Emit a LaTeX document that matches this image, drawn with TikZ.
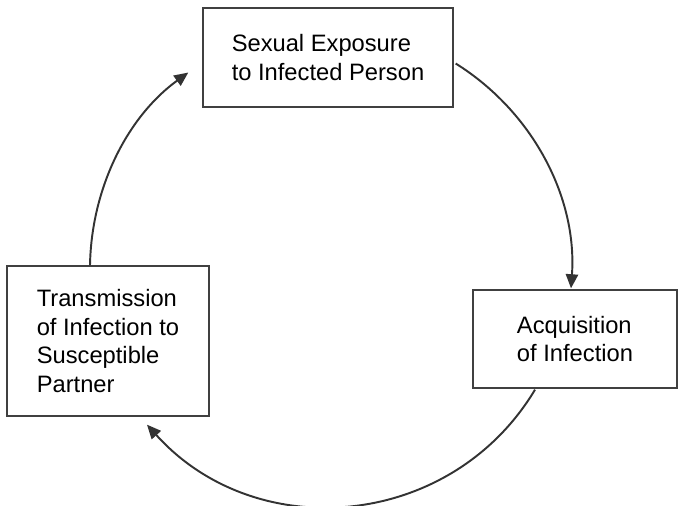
\documentclass[tikz,border=0pt]{standalone}
\usepackage{fontspec}
\setmainfont{Liberation Sans}
\usetikzlibrary{arrows.meta, positioning, calc}

\tikzset{
  stagebox/.style={draw=black!75, line width=0.8pt, align=left, inner sep=0pt,
    font=\fontsize{13.5}{16.4}\selectfont},
  cyclearrow/.style={-{Triangle[length=8pt,width=7pt]}, draw=black!80, line width=1.1pt}
}

\begin{document}
\begin{tikzpicture}[x=0.02cm, y=-0.02cm]
    \useasboundingbox (0,0) rectangle (679,506);
    % Draw the three stages of the cycle as boxes
    \node[stagebox, minimum width=5cm, minimum height=1.98cm] (exposure) at (328,57.5) {Sexual Exposure\\to Infected Person};
    \node[stagebox, minimum width=4.08cm, minimum height=1.96cm] (acquisition) at (575,339) {Acquisition\\of Infection};
    \node[stagebox, minimum width=4.04cm, minimum height=3cm] (transmission) at (108,341) {Transmission\\of Infection to\\Susceptible\\Partner};

    % Draw arrows round the cycle
    \draw[cyclearrow] ($(exposure.east)+(2,6)$) to[out=-32, in=86, looseness=0.92] ($(acquisition.north)+(-4,-1)$);
    \draw[cyclearrow] ($(acquisition.south)+(-40,1)$) to[out=-121, in=-48, looseness=1.07] ($(transmission.south)+(39,8)$);
    \draw[cyclearrow] ($(transmission.north)+(-18,0)$) to[out=89, in=216, looseness=0.9] ($(exposure.west)+(-14,15)$);
\end{tikzpicture}
\end{document}
